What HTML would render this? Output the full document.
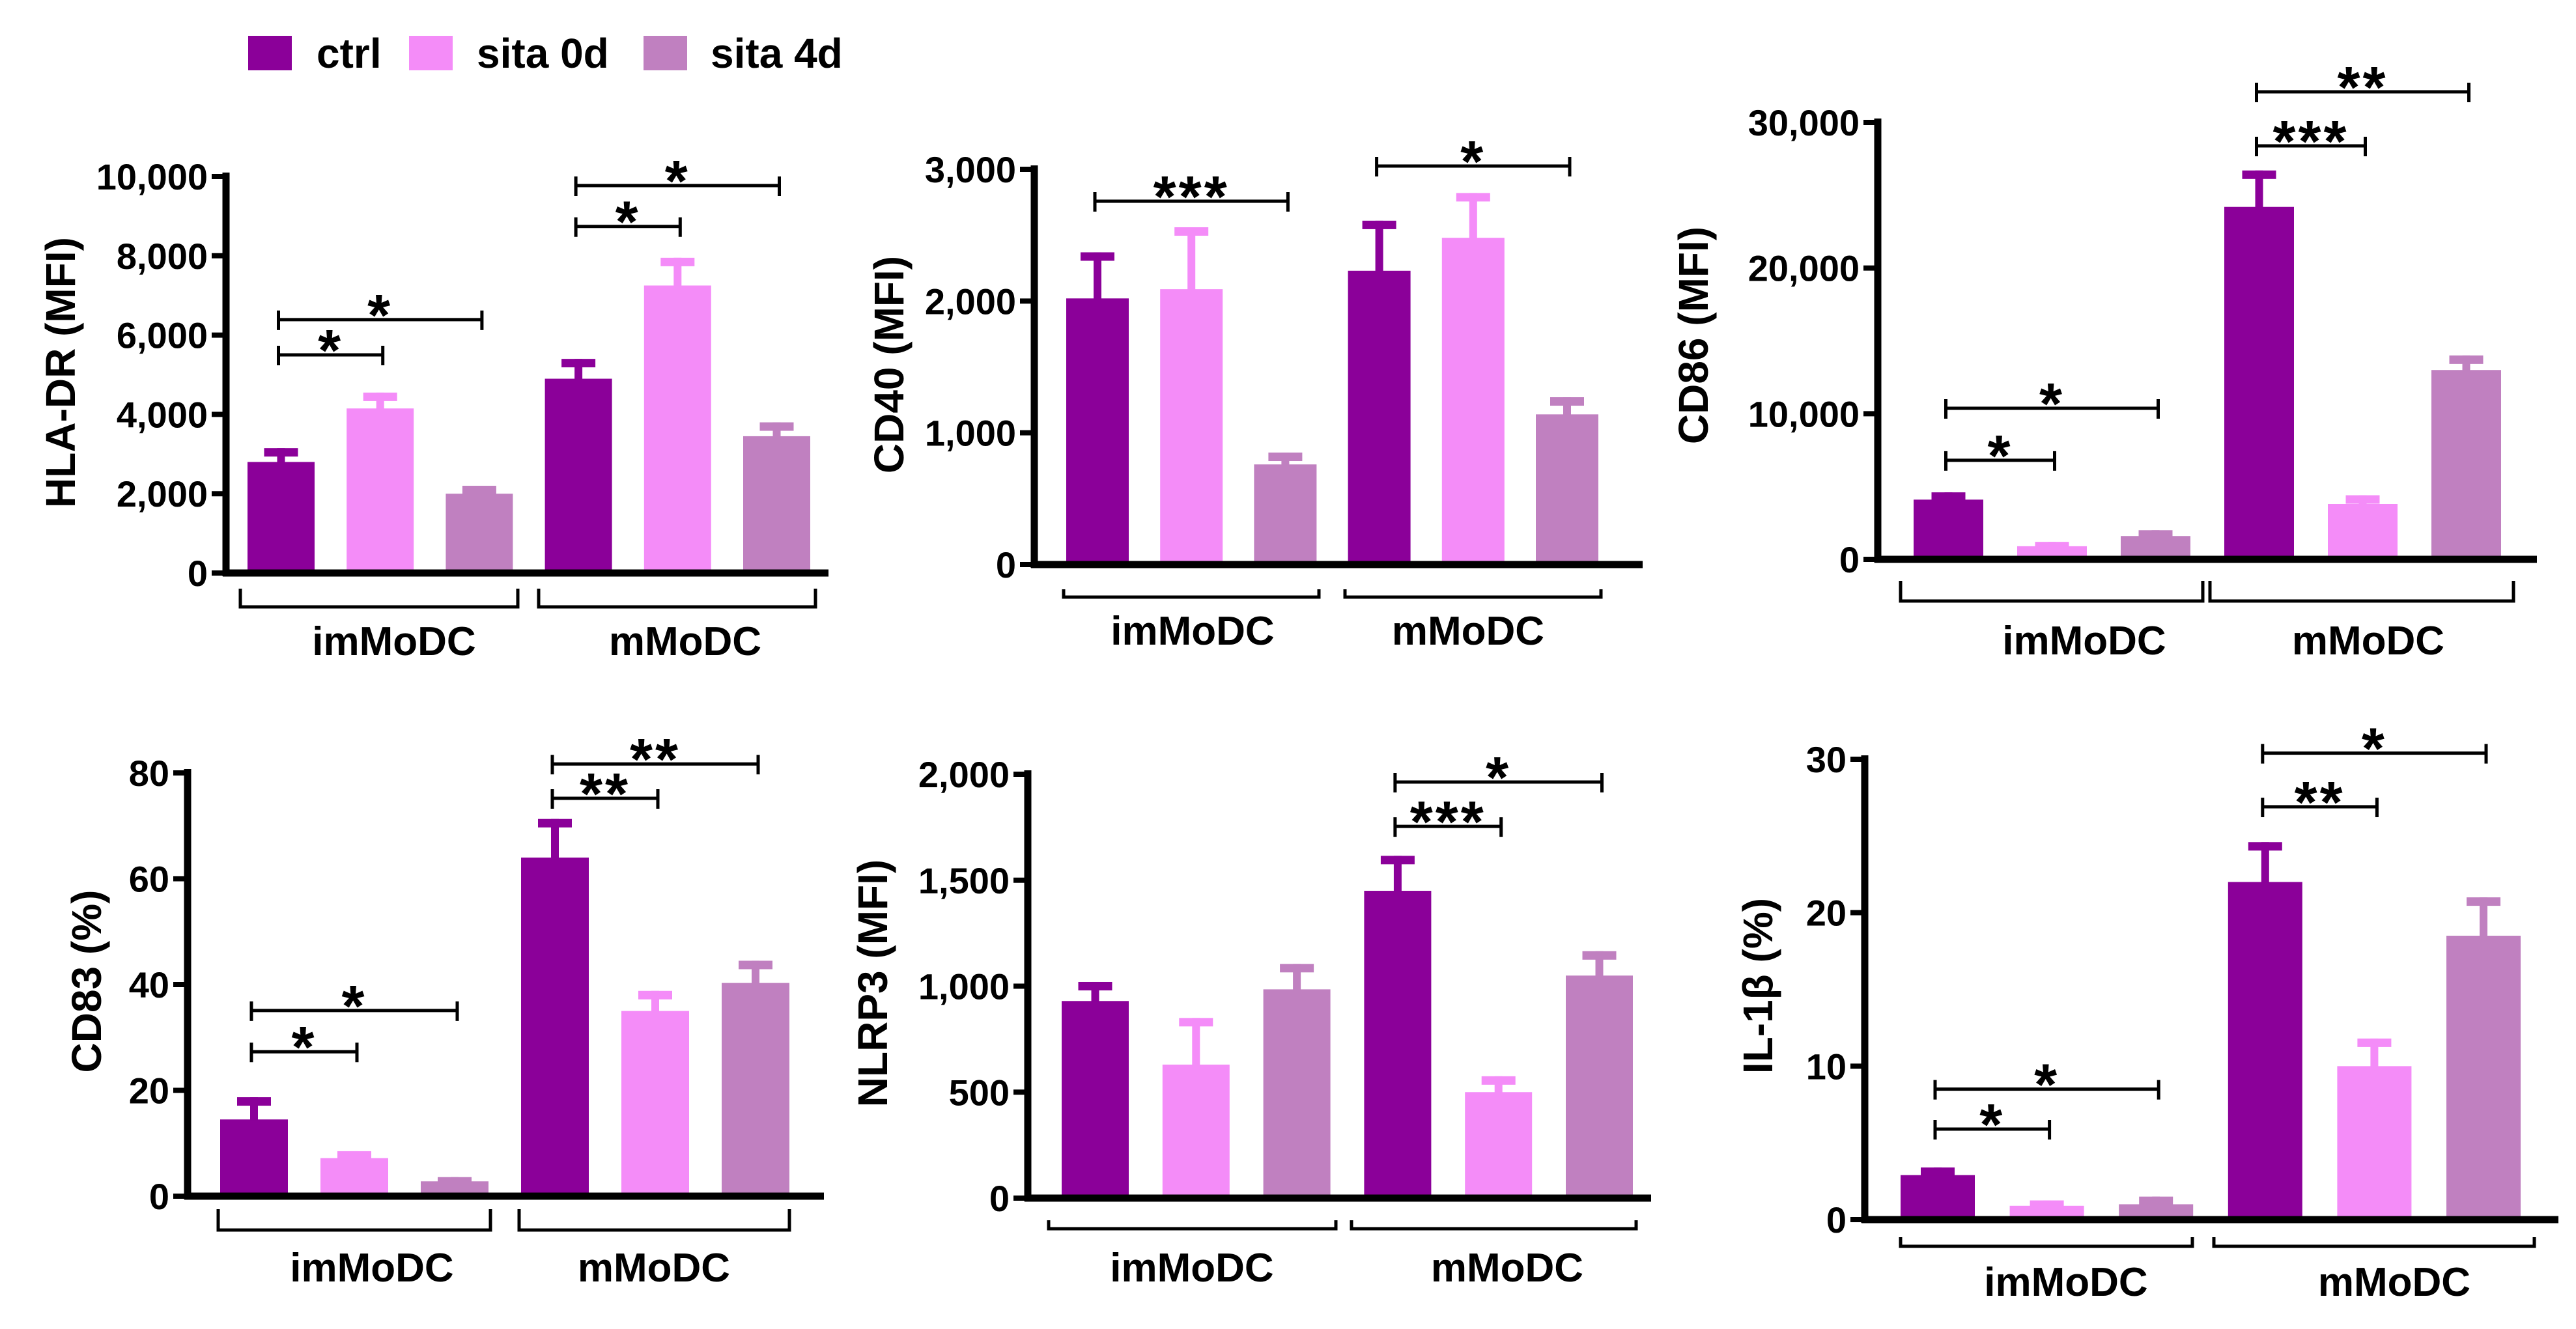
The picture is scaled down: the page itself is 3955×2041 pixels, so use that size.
<!DOCTYPE html>
<html><head><meta charset="utf-8"><style>
html,body{margin:0;padding:0;background:#fff;}
svg{display:block;font-family:"Liberation Sans",Arial,sans-serif;font-weight:bold;}
</style></head><body>
<svg id="fig" width="3955" height="2041" viewBox="0 0 3955 2041" xmlns="http://www.w3.org/2000/svg">
<g>
<g><rect x="381" y="55" width="67" height="53" fill="#8B0099"/><text x="486" y="104" font-size="64">ctrl</text></g>
<g><rect x="628" y="55" width="67" height="53" fill="#F48CF8"/><text x="732" y="104" font-size="64">sita 0d</text></g>
<g><rect x="988" y="55" width="67" height="53" fill="#C080C0"/><text x="1091" y="104" font-size="64">sita 4d</text></g>
</g>
</svg>
<script>
const colors = ["#8B0099","#F48CF8","#C080C0"];
const groups = ["imMoDC","mMoDC"];
const series = ["ctrl","sita 0d","sita 4d"];

const hlaValues = [2800,4150,2000,4900,7250,3450];
const hlaErr = [350,400,200,500,700,350];
const hlaTicks = ["0","2,000","4,000","6,000","8,000","10,000"];
const hlaTickVals = [0,2000,4000,6000,8000,10000];
const hlaSig = [[0,1,5500,"*"],[0,2,6390,"*"],[3,4,8740,"*"],[3,5,9770,"*"]];

const cd40Values = [2020,2090,760,2230,2480,1140];
const cd40Err = [350,470,90,380,340,130];
const cd40Ticks = ["0","1,000","2,000","3,000"];
const cd40TickVals = [0,1000,2000,3000];
const cd40Sig = [[0,2,2758,"***"],[3,5,3025,"*"]];

const cd86Values = [4100,900,1600,24200,3800,13000];
const cd86Err = [500,300,400,2500,600,1000];
const cd86Ticks = ["0","10,000","20,000","30,000"];
const cd86TickVals = [0,10000,20000,30000];
const cd86Sig = [[0,1,6800,"*"],[0,2,10370,"*"],[3,4,28390,"***"],[3,5,32100,"**"]];

const cd83Values = [14.5,7.2,2.8,64,35,40.3];
const cd83Err = [4.2,1.3,0.8,7.3,3.8,4.2];
const cd83Ticks = ["0","20","40","60","80"];
const cd83TickVals = [0,20,40,60,80];
const cd83Sig = [[0,1,27.3,"*"],[0,2,35.1,"*"],[3,4,75.2,"**"],[3,5,81.7,"**"]];

const nlrpValues = [930,630,985,1450,500,1050];
const nlrpErr = [90,220,120,165,75,115];
const nlrpTicks = ["0","500","1,000","1,500","2,000"];
const nlrpTickVals = [0,500,1000,1500,2000];
const nlrpSig = [[3,4,1754,"***"],[3,5,1963,"*"]];

const il1Values = [2.9,0.9,1.0,22,10,18.5];
const il1Err = [0.5,0.35,0.5,2.6,1.8,2.5];
const il1Ticks = ["0","10","20","30"];
const il1TickVals = [0,10,20,30];
const il1Sig = [[0,1,5.9,"*"],[0,2,8.5,"*"],[3,4,26.9,"**"],[3,5,30.4,"*"]];

const panels = [
 {id:"hla-dr",title:"HLA-DR (MFI)",v:hlaValues,e:hlaErr,t:hlaTicks,tv:hlaTickVals,s:hlaSig,max:10000,ax:347,xe:1272,yt:271,y0:880,b0:380,step:152.2,bw:103,by:932,bt:904,br:[[369,795],[827,1252]],ly:1006,lx:[605,1052],tx:93,ty:572},
 {id:"cd40",title:"CD40 (MFI)",v:cd40Values,e:cd40Err,t:cd40Ticks,tv:cd40TickVals,s:cd40Sig,max:3000,ax:1588,xe:2522,yt:260,y0:867,b0:1637,step:144.2,bw:96,by:917,bt:905,br:[[1633,2025],[2065,2458]],ly:990,lx:[1831,2254],tx:1365,ty:560},
 {id:"cd86",title:"CD86 (MFI)",v:cd86Values,e:cd86Err,t:cd86Ticks,tv:cd86TickVals,s:cd86Sig,max:30000,ax:2883,xe:3895,yt:188,y0:859,b0:2938,step:159,bw:107,by:923,bt:892,br:[[2918,3382],[3393,3859]],ly:1005,lx:[3200,3636],tx:2600,ty:515},
 {id:"cd83",title:"CD83 (%)",v:cd83Values,e:cd83Err,t:cd83Ticks,tv:cd83TickVals,s:cd83Sig,max:80,ax:288,xe:1265,yt:1187,y0:1837,b0:338,step:154,bw:104,by:1889,bt:1857,br:[[335,753],[797,1212]],ly:1968,lx:[571,1004],tx:133,ty:1507},
 {id:"nlrp3",title:"NLRP3 (MFI)",v:nlrpValues,e:nlrpErr,t:nlrpTicks,tv:nlrpTickVals,s:nlrpSig,max:2000,ax:1578,xe:2535,yt:1189,y0:1840,b0:1630,step:154.8,bw:103,by:1887,bt:1874,br:[[1610,2051],[2075,2512]],ly:1968,lx:[1830,2314],tx:1340,ty:1510},
 {id:"il-1b",title:"IL-1β (%)",v:il1Values,e:il1Err,t:il1Ticks,tv:il1TickVals,s:il1Sig,max:30,ax:2863,xe:3928,yt:1166,y0:1873,b0:2918,step:167.6,bw:114,by:1914,bt:1900,br:[[2918,3366],[3399,3891]],ly:1990,lx:[3172,3676],tx:2699,ty:1514}
];
const NS="http://www.w3.org/2000/svg";
const svg=document.getElementById("fig");
function mk(tag,attrs,parent){const el=document.createElementNS(NS,tag);for(const k in attrs)el.setAttribute(k,attrs[k]);parent.appendChild(el);return el;}
panels.forEach(p=>{
 const g=mk("g",{},svg);
 
 
 const yS=v=>p.y0-(v/p.max)*(p.y0-p.yt);
 const xB=i=>p.b0+i*p.step;
 p.v.forEach((val,i)=>{
  const c=colors[i%3];const x=xB(i);const cx=x+p.bw/2;
  const top=yS(val), et=yS(val+p.e[i]);
  const bar=mk("rect",{x:x,y:top,width:p.bw,height:p.y0-top,fill:c},g);
  
  
  const stem=mk("rect",{x:cx-6,y:et,width:12,height:top-et+1,fill:c},g);
  
  
  const cap=mk("rect",{x:cx-26,y:et,width:52,height:13,fill:c},g);
  
  
 });
 const ya=mk("line",{x1:p.ax,y1:p.yt-6,x2:p.ax,y2:p.y0+5,stroke:"#000","stroke-width":11},g);
 
 
 const xa=mk("line",{x1:p.ax-5,y1:p.y0,x2:p.xe,y2:p.y0,stroke:"#000","stroke-width":11},g);
 
 
 p.tv.forEach((tv,i)=>{
  const y=yS(tv);
  const tk=mk("line",{x1:p.ax-22,y1:y,x2:p.ax,y2:y,stroke:"#000","stroke-width":8},g);
  
  
  const tl=mk("text",{x:p.ax-28,y:y+20,"font-size":56,"text-anchor":"end"},g);
  tl.textContent=p.t[i];
  
  
 });
 const tt=mk("text",{x:0,y:0,"font-size":64,"text-anchor":"middle",transform:`translate(${p.tx+22},${p.ty}) rotate(-90)`},g);
 tt.textContent=p.title;
 
 
 p.br.forEach((b,i)=>{
  const br=mk("path",{d:`M${b[0]},${p.bt} V${p.by} H${b[1]} V${p.bt}`,fill:"none",stroke:"#000","stroke-width":5},g);
  
  
  const gl=mk("text",{x:p.lx[i],y:p.ly,"font-size":62,"text-anchor":"middle"},g);
  gl.textContent=groups[i];
  
  
 });
 p.s.forEach(s=>{
  const x1=xB(s[0])+p.bw/2-4, x2=xB(s[1])+p.bw/2+4, y=yS(s[2]);
  const sl=mk("path",{d:`M${x1},${y} H${x2} M${x1},${y-14} V${y+16} M${x2},${y-14} V${y+16}`,fill:"none",stroke:"#000","stroke-width":5},g);
  
  
  const st=mk("text",{x:(x1+x2)/2,y:y+24,"font-size":90,"text-anchor":"middle","letter-spacing":"4"},g);
  st.textContent=s[3];
  
  
 });
});
</script>
</body></html>
